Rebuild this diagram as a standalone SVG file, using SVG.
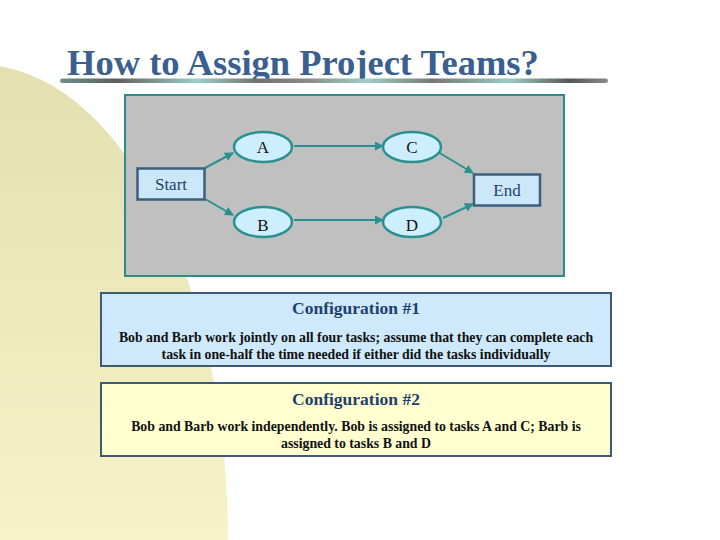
<svg xmlns="http://www.w3.org/2000/svg" width="720" height="540" viewBox="0 0 720 540">
<defs>
<linearGradient id="bgGrad" x1="0" y1="0" x2="0" y2="1">
<stop offset="0" stop-color="#E3DFB0"/>
<stop offset="0.5" stop-color="#F6F3C6"/>
<stop offset="1" stop-color="#FFFED2"/>
</linearGradient>
<linearGradient id="barGrad" gradientUnits="userSpaceOnUse" x1="60" y1="0" x2="608" y2="0">
<stop offset="0" stop-color="#6F8E8E"/>
<stop offset="0.1" stop-color="#5E5E5E"/>
<stop offset="0.25" stop-color="#9CCFC8"/>
<stop offset="0.36" stop-color="#707070"/>
<stop offset="0.45" stop-color="#8A8A8A"/>
<stop offset="0.56" stop-color="#9ED0C8"/>
<stop offset="0.68" stop-color="#777"/>
<stop offset="0.82" stop-color="#9ACCC4"/>
<stop offset="0.93" stop-color="#555"/>
<stop offset="1" stop-color="#8A8A8A"/>
</linearGradient>
<marker id="arr" viewBox="0 0 10 10" refX="9" refY="5" markerWidth="4.5" markerHeight="4.5" orient="auto" markerUnits="strokeWidth">
<path d="M0,0 L10,5 L0,10 z" fill="#2A9090"/>
</marker>
<style>
.title{font-family:"Liberation Serif","Times New Roman",serif;font-weight:bold;font-size:36.5px;fill:#3B6090}
.lbl{font-family:"Liberation Serif","Times New Roman",serif;font-size:17px;text-anchor:middle}
.navy{fill:#1F3F6F}
.blk{fill:#111}
.ell{fill:#CDEEFF;stroke:#2A9090;stroke-width:2.5}
.box{fill:#CCE8F8;stroke:#3A5F80;stroke-width:2.5}
.conn{stroke:#2A9090;stroke-width:2;fill:none;marker-end:url(#arr)}
.ctitle{font-family:"Liberation Serif","Times New Roman",serif;font-weight:bold;font-size:17.5px;fill:#1F3F6F;text-anchor:middle}
.cbody{font-family:"Liberation Serif","Times New Roman",serif;font-weight:bold;font-size:13.8px;fill:#111;text-anchor:middle}
</style>
</defs>
<rect x="0" y="0" width="720" height="540" fill="#FFFFFF"/>
<ellipse cx="-20" cy="540" rx="248" ry="475" fill="url(#bgGrad)"/>
<g id="title">
<text class="title" x="67" y="75">How to Assign Project Teams?</text>
<rect x="60" y="78.5" width="548" height="4.5" rx="2.25" fill="url(#barGrad)"/>
</g>
<g id="network-panel">
<rect x="125" y="95" width="439" height="181" fill="#C0C0C0" stroke="#2E8B8B" stroke-width="2"/>
</g>
<g id="connectors">
<line class="conn" x1="205" y1="168" x2="233" y2="153"/>
<line class="conn" x1="205" y1="199" x2="233" y2="215"/>
<line class="conn" x1="294" y1="146" x2="383" y2="146"/>
<line class="conn" x1="294" y1="220" x2="383" y2="220"/>
<line class="conn" x1="438" y1="152" x2="473" y2="173"/>
<line class="conn" x1="443" y1="218" x2="473" y2="204"/>
</g>
<g id="start">
<rect class="box" x="137.5" y="168.5" width="67" height="31"/>
<text class="lbl navy" x="171" y="190">Start</text>
</g>
<g id="end">
<rect class="box" x="474" y="174.5" width="66" height="31"/>
<text class="lbl navy" x="507" y="196">End</text>
</g>
<g id="A">
<ellipse class="ell" cx="263" cy="147" rx="29" ry="15"/>
<text class="lbl blk" x="263" y="153">A</text>
</g>
<g id="C">
<ellipse class="ell" cx="412" cy="147" rx="29" ry="15"/>
<text class="lbl blk" x="412" y="153">C</text>
</g>
<g id="B">
<ellipse class="ell" cx="263" cy="222" rx="29" ry="15"/>
<text class="lbl blk" x="263" y="231">B</text>
</g>
<g id="D">
<ellipse class="ell" cx="412" cy="222" rx="29" ry="15"/>
<text class="lbl blk" x="412" y="231">D</text>
</g>
<g id="config1">
<rect x="101" y="293" width="510" height="73" fill="#CDE9FB" stroke="#3C5A78" stroke-width="2"/>
<text class="ctitle" x="356" y="314">Configuration #1</text>
<text class="cbody" x="356" y="342">Bob and Barb work jointly on all four tasks; assume that they can complete each</text>
<text class="cbody" x="356" y="359">task in one-half the time needed if either did the tasks individually</text>
</g>
<g id="config2">
<rect x="101" y="383" width="510" height="73" fill="#FFFFD0" stroke="#3C5A78" stroke-width="2"/>
<text class="ctitle" x="356" y="405">Configuration #2</text>
<text class="cbody" x="356" y="431">Bob and Barb work independently.  Bob is assigned to tasks A and C; Barb is</text>
<text class="cbody" x="356" y="448">assigned to tasks B and D</text>
</g>
</svg>
